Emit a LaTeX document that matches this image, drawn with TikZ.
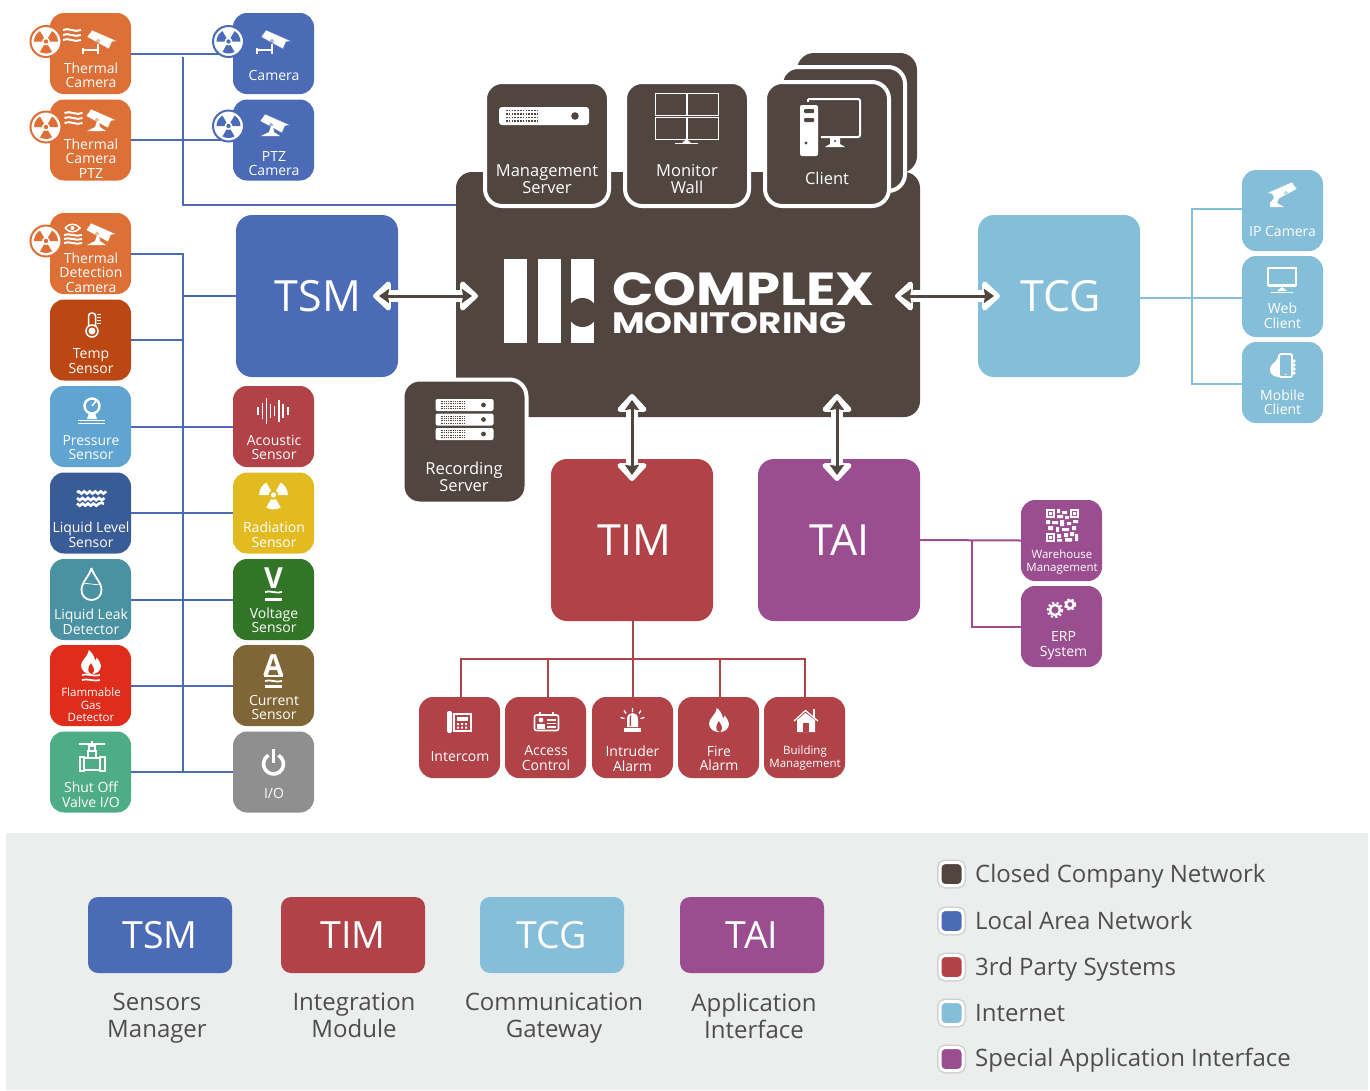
\documentclass[tikz,border=0pt]{standalone}
\usepackage{fontspec}
\usepackage{graphicx}
\setmainfont{Open Sans}
\newfontfamily\logofont{Poppins}
\usetikzlibrary{arrows.meta,decorations.pathmorphing}
\definecolor{thermal}{HTML}{DC7037}
\definecolor{tempc}{HTML}{BB4713}
\definecolor{pressc}{HTML}{60A5D2}
\definecolor{levelc}{HTML}{3A5C96}
\definecolor{leakc}{HTML}{4A92A2}
\definecolor{gasc}{HTML}{DF2C1B}
\definecolor{valvec}{HTML}{4FAD86}
\definecolor{tsmc}{HTML}{4C6BB7}
\definecolor{timc}{HTML}{B04248}
\definecolor{tcgc}{HTML}{85BED8}
\definecolor{taic}{HTML}{9A4E8F}
\definecolor{radc}{HTML}{E2BB21}
\definecolor{voltc}{HTML}{327526}
\definecolor{currc}{HTML}{806536}
\definecolor{ioc}{HTML}{8F8F8F}
\definecolor{darkc}{HTML}{50453F}
\definecolor{bandc}{HTML}{ECEEED}
\definecolor{inkc}{HTML}{4D4D4D}

\begin{document}
\begin{tikzpicture}[x=1pt, y=-1pt,
    tile/.style={rectangle, rounded corners=14pt, minimum size=81pt, inner sep=0pt},
    srvtile/.style={rectangle, rounded corners=17pt, minimum size=124pt, inner sep=0pt,
                    fill=darkc, draw=white, line width=4pt},
    bigbox/.style={rectangle, rounded corners=16pt, minimum size=162pt, inner sep=0pt,
                   text=white, font=\fontsize{43}{43}\selectfont},
    legbox/.style={rectangle, rounded corners=10pt, minimum width=144pt, minimum height=76pt,
                   inner sep=0pt, text=white, font=\fontsize{37.5}{37.5}\selectfont},
    tiletext/.style={text=white, align=center, inner sep=0pt, xshift=.5pt, font=\fontsize{14}{14.5}\selectfont},
    smalltext/.style={text=white, align=center, inner sep=0pt, xshift=.5pt, font=\fontsize{11.5}{12.5}\selectfont},
    srvtext/.style={text=white, align=center, inner sep=0pt, font=\fontsize{16.5}{17}\selectfont},
    capttext/.style={text=inkc, align=center, inner sep=0pt, font=\fontsize{24}{27}\selectfont},
    legtext/.style={text=inkc, anchor=base west, inner sep=0pt, font=\fontsize{24}{24}\selectfont},
    swatch/.style={rectangle, rounded corners=5pt, minimum size=23pt, inner sep=0pt, draw=white,
                   line width=3pt, preaction={draw=black!18, line width=6pt}},
    badge/.style={circle, minimum size=31pt, inner sep=0pt, fill=white, line width=2pt, draw},
    tsmline/.style={draw=tsmc, line width=2pt},
    timline/.style={draw=timc, line width=2pt},
    tcgline/.style={draw=tcgc, line width=2pt},
    tailine/.style={draw=taic, line width=2pt},
    linkhalo/.style={draw=white, line width=12pt, {Triangle[length=19pt,width=34pt,round,line width=6pt]}-{Triangle[length=19pt,width=34pt,round,line width=6pt]}},
    linkarrow/.style={draw=darkc, line width=3pt, {Stealth[length=10pt,width=14pt,inset=1pt]}-{Stealth[length=10pt,width=14pt,inset=1pt]}},
    iconline/.style={draw=white, line width=1.5pt},
    trefoil/.pic={
        \path[pic actions] (0,0) circle (2.2);
        \path[pic actions] (60:4) -- (60:12) arc (60:120:12) -- (120:4) arc (120:60:4) -- cycle;
        \path[pic actions] (180:4) -- (180:12) arc (180:240:12) -- (240:4) arc (240:180:4) -- cycle;
        \path[pic actions] (300:4) -- (300:12) arc (300:360:12) -- (360:4) arc (360:300:4) -- cycle;
    },
    camhead/.pic={
        \path[pic actions] (-9,-9) -- (16,2) -- (11,3) -- (8,10) -- (-14,-2) -- cycle;
        \draw[pic actions, line width=.6pt] (-3,2) circle (1.5);
    },
    wallmount/.pic={
        \draw[iconline] (-18,9) -- (-18,15) (-18,11) -- (-3,11) (-3,5) -- (-3,15);
    },
    pedmount/.pic={
        \fill[white] (-3,3) -- (-1,3) -- (0,9) -- (6,13) -- (-13,13) -- (-5,9) -- cycle;
    },
    threewaves/.pic={
        \draw[white, line width=2pt] (-9,-5) .. controls (-4,-8) and (3,-2) .. (9,-5);
        \draw[white, line width=2pt] (-9,0) .. controls (-4,-3) and (3,3) .. (9,0);
        \draw[white, line width=2pt] (-9,5) .. controls (-4,2) and (3,8) .. (9,5);
    },
    flame/.pic={
        \path[fill=white] (0,11) .. controls (-6,11) and (-9,7) .. (-9,3) .. controls (-9,-2) and (-3,-4) .. (-2,-11)
            .. controls (3,-7) and (3,-3) .. (4,-1) .. controls (5,-2) and (5,-3) .. (5,-4)
            .. controls (8,-1) and (9,2) .. (9,4) .. controls (9,8) and (5,11) .. (0,11);
        \path[pic actions] (1,11) .. controls (-3,10) and (-4,6) .. (0,1) .. controls (1,4) and (5,6) .. (1,11);
    },
    serverbar/.pic={
        \fill[white, rounded corners=3pt] (-45,-9) rectangle (45,9);
        \draw[darkc, line width=1.5pt, dash pattern=on 1.5pt off 1.3pt] (-38,-5.5) -- (-6,-5.5) (-38,-2) -- (-6,-2) (-38,1.5) -- (-6,1.5) (-38,5) -- (-6,5);
        \fill[darkc] (31,0) circle (3.8);
    },
    rackbar/.pic={
        \fill[white, rounded corners=2pt] (-29,-6) rectangle (29,6);
        \draw[darkc, line width=.9pt, dash pattern=on 1pt off .8pt] (-24,-3.5) -- (0,-3.5) (-24,-1.2) -- (0,-1.2) (-24,1.2) -- (0,1.2) (-24,3.5) -- (0,3.5);
        \fill[darkc] (19,0) circle (2.4);
    },
    gear/.pic={
        \draw[white, line width=2.4pt] (0,0) circle (4.2);
        \draw[white, line width=2pt, dash pattern=on 2.2pt off 2.2pt] (0,0) circle (6);
    }
]
\useasboundingbox (0,0) rectangle (1370,1090);

% Band under the key
\fill[bandc] (6,833) rectangle (1368,1090);

% Central block
\node[rectangle, rounded corners=16pt, fill=darkc, minimum width=464pt, minimum height=245pt, inner sep=0pt] (main) at (688,294.5) {};

% Camera tiles
\node[tile, fill=thermal] (thcam) at (90.5,53.5) {};
\node[tile, fill=thermal] (thptz) at (90.5,140) {};
\node[tile, fill=tsmc] (cam) at (273.5,53.5) {};
\node[tile, fill=tsmc] (ptz) at (273.5,140) {};

% Sensor tiles, left
\node[tile, fill=thermal] (thdet) at (90.5,253.5) {};
\node[tile, fill=tempc] (temp) at (90.5,340) {};
\node[tile, fill=pressc] (press) at (90.5,426.5) {};
\node[tile, fill=levelc] (level) at (90.5,513) {};
\node[tile, fill=leakc] (leak) at (90.5,599.5) {};
\node[tile, fill=gasc] (gas) at (90.5,685.5) {};
\node[tile, fill=valvec] (valve) at (90.5,772) {};

% Sensor tiles, right
\node[tile, fill=timc] (acou) at (273.5,426.5) {};
\node[tile, fill=radc] (radi) at (273.5,513) {};
\node[tile, fill=voltc] (volt) at (273.5,599.5) {};
\node[tile, fill=currc] (curr) at (273.5,685.5) {};
\node[tile, fill=ioc] (io) at (273.5,772) {};

% Big boxes
\node[bigbox, fill=tsmc] (tsm) at (317,296) {\kern2pt TSM};
\node[bigbox, fill=timc] (tim) at (632,540) {\kern5pt TIM};
\node[bigbox, fill=taic] (tai) at (839,540) {\kern1pt TAI};
\node[bigbox, fill=tcgc] (tcg) at (1059,296) {\kern4pt TCG};

% Outer tiles
\node[tile, fill=tcgc] (ipcam) at (1282.5,210.5) {};
\node[tile, fill=tcgc] (web) at (1282.5,296.5) {};
\node[tile, fill=tcgc] (mobile) at (1282.5,382.5) {};
\node[tile, fill=taic] (ware) at (1061.5,540.5) {};
\node[tile, fill=taic] (erp) at (1061.5,626.5) {};
\node[tile, fill=timc] (inter) at (459.5,737.5) {};
\node[tile, fill=timc] (access) at (545.5,737.5) {};
\node[tile, fill=timc] (intru) at (632.5,737.5) {};
\node[tile, fill=timc] (fire) at (718.5,737.5) {};
\node[tile, fill=timc] (build) at (804.5,737.5) {};

% Junction points
\coordinate (busA) at (182.5,57);
\coordinate (busB) at (456,204.5);
\coordinate (busC) at (182.5,253.5);
\coordinate (busD) at (182.5,772);
\coordinate (tcgV) at (1192,298);
\coordinate (tcgT) at (1242,209);
\coordinate (tcgU) at (1242,384);
\coordinate (taiV) at (972,540);
\coordinate (timV) at (632.5,659);

% Links, blue
\draw[tsmline] (thcam.east) -- (cam.west);
\draw[tsmline] (thptz.east) -- (ptz.west);
\draw[tsmline] (busA) |- (busB);
\draw[tsmline] (thdet.east) -- (busC) -- (busD);
\draw[tsmline] (tsm.west) -- (tsm.west-|busC);
\draw[tsmline] (temp.east) -- (temp.east-|busC);
\draw[tsmline] (press.east) -- (acou.west);
\draw[tsmline] (level.east) -- (radi.west);
\draw[tsmline] (leak.east) -- (volt.west);
\draw[tsmline] (gas.east) -- (curr.west);
\draw[tsmline] (valve.east) -- (io.west);

% Links, light blue
\draw[tcgline] (tcg.east|-tcgV) -- (web.west|-tcgV);
\draw[tcgline] (tcgT) -| (tcgV) |- (tcgU);

% Links, purple
\draw[tailine] (tai.east) -- (ware.west);
\draw[tailine] (taiV) |- (erp.west);

% Links, red
\draw[timline] (tim.south-|timV) -- (timV);
\draw[timline] ([xshift=1.5pt]inter.north) |- (timV) -| (build.north);
\draw[timline] ([xshift=2.5pt]access.north) -- ([xshift=2.5pt]access.north|-timV);
\draw[timline] (intru.north-|timV) -- (timV);
\draw[timline] ([xshift=1.5pt]fire.north) -- ([xshift=1.5pt]fire.north|-timV);

% Stack of server tiles
\node[rectangle, rounded corners=17pt, fill=darkc, minimum size=120pt, inner sep=0pt] (clientC) at (857,113) {};
\node[srvtile, minimum size=124pt] (clientB) at (843,129) {};
\node[srvtile] (client) at (827,144) {};
\node[srvtile] (mgmt) at (547,144) {};
\node[srvtile] (wall) at (687,144) {};
\node[srvtile] (rec) at (464.5,441.5) {};

% Double arrows
\coordinate (tsmA) at (373,296);
\coordinate (tsmB) at (478,296);
\coordinate (tcgA) at (895,296);
\coordinate (tcgB) at (1000,296);
\coordinate (timA) at (632,394);
\coordinate (timB) at (632,481);
\coordinate (taiA) at (837,394);
\coordinate (taiB) at (837,481);
\draw[linkhalo] (tsmA) -- (tsmB);
\draw[linkhalo] (tcgA) -- (tcgB);
\draw[linkhalo] (timA) -- (timB);
\draw[linkhalo] (taiA) -- (taiB);
\draw[linkarrow] ([xshift=6pt]tsmA) -- ([xshift=-6pt]tsmB);
\draw[linkarrow] ([xshift=6pt]tcgA) -- ([xshift=-6pt]tcgB);
\draw[linkarrow] ([yshift=-6pt]timA) -- ([yshift=6pt]timB);
\draw[linkarrow] ([yshift=-6pt]taiA) -- ([yshift=6pt]taiB);

% Logo
\fill[white] (504,259) rectangle (527,343);
\fill[white] (538,259) rectangle (561,343);
\fill[white] (571,259) rectangle (594,343);
\fill[darkc] (582.5,312.5) circle (14.5);
\node[text=white, anchor=north west, inner sep=0pt] (logoA) at (612,272) {\resizebox{262pt}{33pt}{\logofont\bfseries COMPLEX}};
\node[text=white, anchor=north west, inner sep=0pt] (logoB) at (612,312.5) {\resizebox{234pt}{21pt}{\logofont\bfseries MONITORING}};

% Tile labels
\node[tiletext] (thcamT) at (90.5,75) {Thermal\\Camera};
\node[tiletext] (thptzT) at (90.5,158.5) {Thermal\\Camera\\PTZ};
\node[tiletext] (camT) at (273.5,75) {Camera};
\node[tiletext] (ptzT) at (273.5,163.5) {PTZ\\Camera};
\node[tiletext] (thdetT) at (90.5,272.5) {Thermal\\Detection\\Camera};
\node[tiletext] (tempT) at (90.5,361) {Temp\\Sensor};
\node[tiletext] (pressT) at (90.5,447.5) {Pressure\\Sensor};
\node[tiletext] (levelT) at (90.5,534.5) {Liquid Level\\Sensor};
\node[tiletext] (leakT) at (90.5,621.5) {Liquid Leak\\Detector};
\node[smalltext] (gasT) at (90.5,705) {Flammable\\Gas\\Detector};
\node[tiletext] (valveT) at (90.5,794.5) {Shut Off\\Valve I/O};
\node[tiletext] (acouT) at (273.5,447.5) {Acoustic\\Sensor};
\node[tiletext] (radiT) at (273.5,534.5) {Radiation\\Sensor};
\node[tiletext] (voltT) at (273.5,620) {Voltage\\Sensor};
\node[tiletext] (currT) at (273.5,707.5) {Current\\Sensor};
\node[tiletext] (ioT) at (273.5,793.5) {I/O};
\node[srvtext] (mgmtT) at (547,179.5) {Management\\Server};
\node[srvtext] (wallT) at (687,179.5) {Monitor\\Wall};
\node[srvtext] (clientT) at (827,178) {Client};
\node[srvtext] (recT) at (464,477) {Recording\\Server};
\node[tiletext] (ipcamT) at (1282,231) {IP Camera};
\node[tiletext] (webT) at (1282,315.5) {Web\\Client};
\node[tiletext] (mobileT) at (1282,402) {Mobile\\Client};
\node[smalltext, font=\fontsize{11.5}{13}\selectfont] (wareT) at (1061.5,562) {Warehouse\\Management};
\node[tiletext] (erpT) at (1063,645.5) {ERP\\System};
\node[tiletext] (interT) at (459.5,757) {Intercom};
\node[tiletext] (accessT) at (545.5,758) {Access\\Control};
\node[tiletext] (intruT) at (632,758.5) {Intruder\\Alarm};
\node[tiletext] (fireT) at (718.5,758.5) {Fire\\Alarm};
\node[smalltext] (buildT) at (804.5,758) {Building\\Management};

% Radiation badges
\node[badge, draw=thermal] (radA) at (46,41.5) {};
\node[badge, draw=thermal] (radB) at (46,127) {};
\node[badge, draw=thermal] (radC) at (46,241) {};
\node[badge, draw=tsmc] (radD) at (228.5,41.5) {};
\node[badge, draw=tsmc] (radE) at (228.5,126) {};
\pic[fill=thermal] at (radA) {trefoil};
\pic[fill=thermal] at (radB) {trefoil};
\pic[fill=thermal] at (radC) {trefoil};
\pic[fill=tsmc] at (radD) {trefoil};
\pic[fill=tsmc] at (radE) {trefoil};
\pic[fill=white, scale=1.2] at (273.5,495) {trefoil};

% Camera icons
\pic[fill=white, draw=thermal] at (101,39) {camhead};
\pic at (101,39) {wallmount};
\pic[fill=white, draw=thermal] at (100,118) {camhead};
\pic at (100,118) {pedmount};
\pic[fill=white, draw=thermal] at (100,232) {camhead};
\pic at (100,232) {pedmount};
\pic[fill=white, draw=tsmc] at (275,39) {camhead};
\pic at (275,39) {wallmount};
\pic[fill=white, draw=tsmc] at (274,123) {camhead};
\pic at (274,123) {pedmount};
\pic[fill=white, draw=tcgc, xscale=-1] at (1283,191) {camhead};
\fill[white] (1279,198) -- (1277,203) -- (1284,207) -- (1270,207) -- (1270,203) -- (1274,198) -- cycle;

% Wave and eye icons
\pic at (72,35) {threewaves};
\pic at (73.5,118) {threewaves};
\pic[yscale=.8] at (73,239) {threewaves};
\draw[iconline] (65,228) .. controls (69,223) and (76,223) .. (80,228) .. controls (76,233) and (69,233) .. (65,228);
\fill[white] (72.5,228) circle (2);

% Temp sensor icon
\draw[iconline, fill=tempc, rounded corners=3pt] (88.5,328) -- (88.5,313) -- (95.5,313) -- (95.5,328);
\draw[iconline, fill=tempc] (92,331) circle (6);
\fill[white] (92,331) circle (3.5);
\draw[white, line width=1pt] (97,314) -- (101,314) (97,317) -- (101,317) (97,320) -- (101,320) (97,323) -- (101,323);

% Pressure icon
\draw[white, line width=2.4pt] (92,406) circle (7.5);
\draw[white, line width=1.5pt] (92,406) -- (96,401);
\fill[white] (89,413) -- (95,413) -- (97,419) -- (87,419) -- cycle;
\draw[white, line width=1.4pt] (78,420.5) -- (105,420.5) (78,423.5) -- (105,423.5);

% Liquid level icon
\draw[white, line width=2.6pt, decorate, decoration={snake, amplitude=1.1pt, segment length=5.5pt}]
    (77,492.5) -- (104,492.5) (77,498) -- (104,498) (77,503.5) -- (104,503.5);

% Leak icon
\draw[white, line width=1.8pt] (91.5,568) .. controls (89,577) and (81.5,582) .. (81.5,590) .. controls (81.5,596) and (86,600) .. (91.5,600)
    .. controls (97,600) and (101.5,596) .. (101.5,590) .. controls (101.5,582) and (94,577) .. (91.5,568);
\draw[white, line width=.7pt] (83,584) .. controls (87,582) and (95,586) .. (100,584);

% Gas icon
\pic[fill=gasc, scale=1.1] at (91,662) {flame};
\draw[white, line width=1.7pt] (82,675) .. controls (86,673) and (95,677) .. (100,675) (82,680) .. controls (86,678) and (95,682) .. (100,680);

% Valve icon
\draw[white, line width=1.8pt] (79,744) -- (105,744);
\draw[iconline] (89,746) rectangle (95,751);
\draw[iconline] (88,751) rectangle (96,758);
\draw[iconline] (84,758) rectangle (100,770);
\draw[iconline] (80,757) rectangle (84,771);
\draw[iconline] (100,757) rectangle (105,771);
\draw[white, line width=1.8pt] (92,741) -- (92,746);

% Acoustic icon
\draw[white, line width=1.4pt] (258,407) -- (258,415) (262.5,403) -- (262.5,419) (266.5,398) -- (266.5,424)
    (270.5,404) -- (270.5,418) (274.5,406) -- (274.5,416) (279,400) -- (279,422) (283,404) -- (283,418) (288,407) -- (288,415);

% Voltage and current icons
\node[text=white, inner sep=0pt, font=\fontsize{29}{29}\selectfont\bfseries] (voltV) at (273.5,578) {V};
\draw[white, line width=1.8pt] (265,592) .. controls (269,590) and (277,594) .. (282,592);
\draw[white, line width=3pt] (265,599) -- (282,599);
\node[text=white, inner sep=0pt, font=\fontsize{29}{29}\selectfont\bfseries] (currA) at (273.5,665) {A};
\draw[white, line width=2pt] (264,676) -- (283,676);
\draw[white, line width=1.8pt] (265,681) .. controls (269,679) and (277,683) .. (282,681);
\draw[white, line width=2.4pt] (265,686.5) -- (282,686.5);

% I/O icon
\draw[white, line width=3.6pt] (273.5,764) ++(-60:10) arc (-60:240:10);
\draw[white, line width=3.6pt] (273.5,749) -- (273.5,763);

% Server icons
\pic at (544,116) {serverbar};
\pic at (464.5,405) {rackbar};
\pic at (464.5,419.5) {rackbar};
\pic at (464.5,434) {rackbar};

% Monitor wall icon
\draw[white, line width=1pt] (655,93) rectangle (686,115) (687.5,93) rectangle (718,115) (655,117) rectangle (686,139) (687.5,117) rectangle (718,139);
\fill[white] (686.5,139) -- (691,143) -- (682,143) -- cycle;
\draw[white, line width=1pt] (675,143.5) -- (698,143.5);

% Client icon
\draw[white, line width=2pt, rounded corners=2pt] (808,99) -- (860,99) -- (860,137) -- (820,137);
\draw[white, line width=2pt] (808,99) -- (808,104);
\fill[white] (830,138) -- (840,138) -- (840,144) -- (845,147) -- (825,147) -- (830,144) -- cycle;
\fill[darkc] (835,141) circle (1.2);
\fill[darkc] (796,102) rectangle (821,158);
\fill[white, rounded corners=2pt] (800,105) rectangle (818,156);
\fill[darkc, rounded corners=1pt] (804,109) rectangle (814,113);
\fill[darkc, rounded corners=1pt] (804,118) rectangle (814,122);
\fill[darkc] (806,143) circle (1.6);

% Web client icon
\draw[white, line width=2pt] (1268,268) rectangle (1296,285);
\draw[white, line width=2.6pt] (1268,286) -- (1296,286);
\fill[white] (1282,287) -- (1287,291) -- (1277,291) -- cycle;
\draw[white, line width=1pt] (1271,292) -- (1293,292);

% Mobile client icon
\fill[white] (1275,362) .. controls (1278,356) and (1282,354) .. (1284,354) -- (1284,377) .. controls (1276,378) and (1270,376) .. (1270,369) .. controls (1270,366) and (1272,364) .. (1275,362);
\draw[white, line width=1.8pt, fill=tcgc, rounded corners=1.5pt] (1279,354) rectangle (1292,377);
\fill[white] (1294,361) circle (1.8);
\fill[white] (1294,365) circle (1.8);
\fill[white] (1294,369) circle (1.8);
\fill[white] (1294,373) circle (1.8);
\fill[white] (1285.5,374.5) circle (.9);

% QR icon
\draw[white, line width=1.5pt] (1047,510) rectangle (1054,517) (1071,510) rectangle (1078,517) (1047,534) rectangle (1054,541);
\fill[white] (1049,512) rectangle (1052,515) (1073,512) rectangle (1076,515) (1049,536) rectangle (1052,539);
\fill[white] (1057,509) rectangle (1060,513) (1062,511) rectangle (1067,514) (1057,515) rectangle (1063,518) (1065,516) rectangle (1069,519);
\fill[white] (1046,520) rectangle (1050,524) (1052,521) rectangle (1058,524) (1060,520) rectangle (1064,526) (1067,522) rectangle (1071,525) (1073,520) rectangle (1078,523);
\fill[white] (1048,526) rectangle (1053,530) (1056,527) rectangle (1059,532) (1062,528) rectangle (1069,531) (1072,526) rectangle (1076,530);
\fill[white] (1057,534) rectangle (1061,538) (1064,533) rectangle (1068,537) (1070,532) rectangle (1074,536) (1075,534) rectangle (1078,541) (1057,539) rectangle (1062,541.5) (1065,538) rectangle (1072,541.5);

% ERP icon
\pic[scale=1.2] at (1055,610) {gear};
\pic[scale=.9] at (1070,604.5) {gear};

% Intercom icon
\fill[white, rounded corners=2pt] (447,711) rectangle (452,733);
\draw[white, line width=1.6pt, fill=timc] (454,714) rectangle (471,731);
\fill[white] (457,717) rectangle (468,721);
\fill[white] (457,723) rectangle (459,725) (461,723) rectangle (463,725) (465,723) rectangle (467,725)
    (457,726.5) rectangle (459,728.5) (461,726.5) rectangle (463,728.5) (465,726.5) rectangle (467,728.5);

% Access icon
\draw[white, line width=1.6pt, rounded corners=2pt, fill=timc] (534.5,715) rectangle (558.5,730.5);
\draw[white, line width=1.5pt] (540,712) -- (540,716) (553,712) -- (553,716);
\fill[white] (541,720) circle (2.4);
\fill[white] (536.5,728.5) rectangle (545,724);
\draw[white, line width=1.3pt] (547,720) -- (556,720) (547,723.5) -- (556,723.5) (547,727) -- (556,727);

% Intruder icon
\fill[white] (627,727) -- (627,719) .. controls (627,711) and (638,711) .. (638,719) -- (638,727) -- cycle;
\fill[timc] (629.5,726) -- (629.5,720) .. controls (629.5,716) and (631,715) .. (631,715) -- (631,726) -- cycle;
\fill[white] (624,728) rectangle (641,731.5);
\draw[white, line width=1.3pt] (632.5,708) -- (632.5,712) (624,710.5) -- (626,713.5) (641,710.5) -- (639,713.5) (620.5,717.5) -- (624.5,718.5) (644.5,717.5) -- (640.5,718.5);

% Fire icon
\pic[fill=timc, scale=1.1] at (719,720) {flame};

% Building icon
\fill[white] (797,720) -- (805.5,713) -- (815,720) -- (815,732) -- (797,732) -- cycle;
\fill[timc] (802.5,723) rectangle (809,732);
\draw[white, line width=1.3pt] (794,721) -- (805.5,710.5) -- (818,721);
\draw[white, line width=1.3pt] (814,709) -- (814,718);

% Key boxes
\node[legbox, fill=tsmc] (keytsm) at (160,935) {TSM};
\node[legbox, fill=timc] (keytim) at (353,935) {TIM};
\node[legbox, fill=tcgc] (keytcg) at (552,935) {TCG};
\node[legbox, fill=taic] (keytai) at (752,935) {TAI};
\node[capttext] (capttsm) at (157,1018.5) {Sensors\\Manager};
\node[capttext] (capttim) at (354,1015) {Integration\\Module};
\node[capttext] (captcg) at (554,1018.5) {Communication\\Gateway};
\node[capttext] (captai) at (754,1016) {Application\\Interface};

% Key colours
\node[swatch, fill=darkc] (swA) at (951.5,874) {};
\node[swatch, fill=tsmc] (swB) at (951.5,921) {};
\node[swatch, fill=timc] (swC) at (951.5,967) {};
\node[swatch, fill=tcgc] (swD) at (951.5,1013) {};
\node[swatch, fill=taic] (swE) at (951.5,1059) {};
\node[legtext] (legA) at (975,882) {Closed Company Network};
\node[legtext] (legB) at (975,929.5) {Local Area Network};
\node[legtext] (legC) at (975,975) {3rd Party Systems};
\node[legtext] (legD) at (975,1021) {Internet};
\node[legtext] (legE) at (975,1066) {Special Application Interface};

\end{tikzpicture}
\end{document}
